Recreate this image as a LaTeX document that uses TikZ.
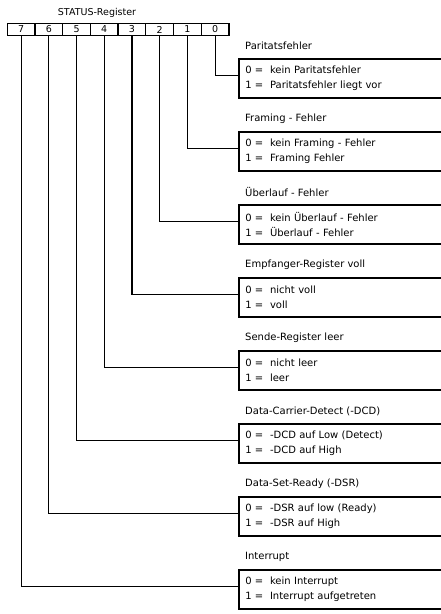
\documentclass[tikz,border=0pt]{standalone}
\usepackage{fontspec}
\setmainfont{DejaVu Sans}
\begin{document}
\begin{tikzpicture}[x=1pt,y=-1pt,
  cell/.style={draw,line width=1.3pt,minimum width=27.7pt,minimum height=12.5pt,inner sep=0pt,font=\fontsize{9.5}{10}\selectfont},
  infobox/.style={draw,line width=1.6pt,anchor=north west,minimum width=203pt,minimum height=39pt,text width=190pt,align=left,inner ysep=3pt,inner xsep=6pt,font=\fontsize{10}{15}\selectfont},
  ttl/.style={anchor=west,inner sep=0pt,font=\fontsize{10}{12}\selectfont},
  conn/.style={line width=1.1pt}]
\useasboundingbox (0,0) rectangle (441,614);
\node[inner sep=0pt,font=\fontsize{9.5}{12}\selectfont] (title) at (97,13) {STATUS-Register};
\foreach \b in {0,...,7}{
  \node[cell] (c\b) at ({7.3+27.7*(7-\b)+13.85},29.5) {\b};
}
% boxes
\node[infobox] (b0) at (238,58) {0 =\ \ kein Paritatsfehler\\1 =\ \ Paritatsfehler liegt vor};
\node[infobox] (b1) at (238,131) {0 =\ \ kein Framing - Fehler\\1 =\ \ Framing Fehler};
\node[infobox] (b2) at (238,204) {0 =\ \ kein Überlauf - Fehler\\1 =\ \ Überlauf - Fehler};
\node[infobox] (b3) at (238,277) {0 =\ \ nicht voll\\1 =\ \ voll};
\node[infobox] (b4) at (238,350) {0 =\ \ nicht leer\\1 =\ \ leer};
\node[infobox] (b5) at (238,423) {0 =\ \ -DCD auf Low (Detect)\\1 =\ \ -DCD auf High};
\node[infobox] (b6) at (238,496) {0 =\ \ -DSR auf low (Ready)\\1 =\ \ -DSR auf High};
\node[infobox] (b7) at (238,569) {0 =\ \ kein Interrupt\\1 =\ \ Interrupt aufgetreten};
% titles
\node[ttl] (t0) at (245,46) {Paritatsfehler};
\node[ttl] (t1) at (245,119) {Framing - Fehler};
\node[ttl] (t2) at (245,192) {Überlauf - Fehler};
\node[ttl] (t3) at (245,265) {Empfanger-Register voll};
\node[ttl] (t4) at (245,338) {Sende-Register leer};
\node[ttl] (t5) at (245,411) {Data-Carrier-Detect (-DCD)};
\node[ttl] (t6) at (245,484) {Data-Set-Ready (-DSR)};
\node[ttl] (t7) at (245,557) {Interrupt};
% connectors
\foreach \b in {0,...,7}{
  \draw[conn] (c\b.south) |- ([yshift=3pt]b\b.west);
}
\end{tikzpicture}
\end{document}
